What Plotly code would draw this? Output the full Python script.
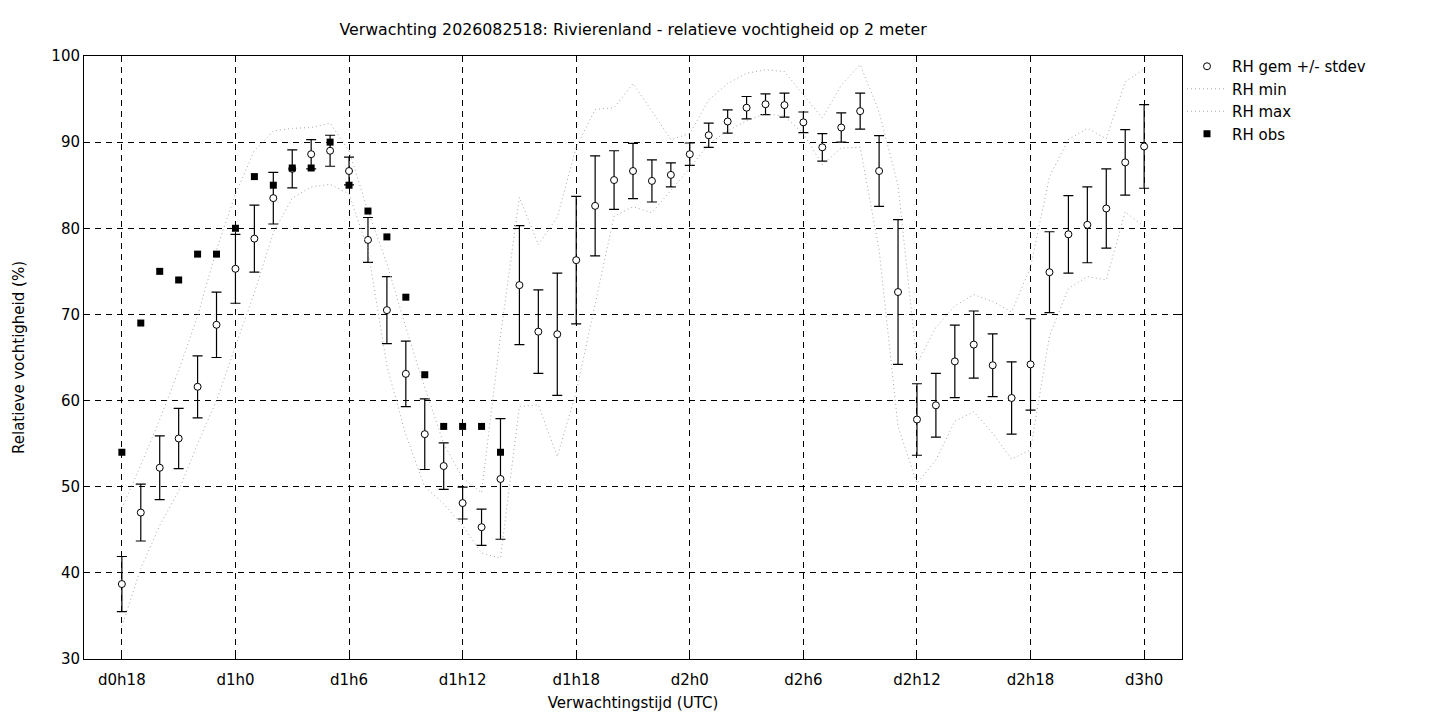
import plotly.graph_objects as go

# uren sinds d0h0 (run 2026082518)
uren = list(range(18, 73))

rh_gem = [38.7, 47.0, 52.2, 55.6, 61.6, 68.8, 75.3, 78.8, 83.5, 86.9,
          88.6, 89.0, 86.65, 78.65, 70.5, 63.1, 56.1, 52.4, 48.1, 45.3,
          50.9, 73.4, 68.0, 67.7, 76.3, 82.6, 85.6, 86.65, 85.5, 86.2,
          88.6, 90.8, 92.4, 94.0, 94.4, 94.3, 92.3, 89.4, 91.7, 93.6,
          86.65, 72.6, 57.8, 59.45, 64.55, 66.5, 64.1, 60.3, 64.2, 74.9,
          79.3, 80.4, 82.3, 87.65, 89.5]
rh_std = [3.2, 3.3, 3.7, 3.5, 3.6, 3.8, 4.0, 3.9, 3.0, 2.2,
          1.7, 1.8, 1.6, 2.6, 3.9, 3.8, 4.1, 2.7, 1.85, 2.1,
          7.0, 6.9, 4.85, 7.1, 7.4, 5.8, 3.4, 3.2, 2.45, 1.4,
          1.3, 1.4, 1.35, 1.3, 1.2, 1.4, 1.2, 1.6, 1.7, 2.1,
          4.1, 8.4, 4.15, 3.7, 4.2, 3.9, 3.65, 4.2, 5.3, 4.7,
          4.5, 4.4, 4.6, 3.8, 4.85]
rh_min = [33.8, 40.5, 45.5, 49.5, 55.0, 60.0, 66.3, 72.5, 79.5, 83.5,
          84.8, 85.1, 84.0, 77.5, 64.0, 56.0, 50.0, 48.0, 45.5, 42.3,
          41.7, 59.3, 59.5, 53.5, 61.0, 71.0, 81.4, 82.5, 81.8, 84.4,
          87.0, 89.8, 91.3, 92.5, 93.3, 93.0, 91.0, 87.4, 89.3, 89.4,
          77.5, 57.0, 50.4, 53.1, 57.6, 58.7, 56.2, 53.2, 54.3, 67.5,
          73.0, 74.4, 74.0, 81.9, 80.2]
rh_max = [47.5, 52.5, 57.8, 63.5, 69.8, 77.5, 84.0, 89.0, 91.3, 91.6,
          91.7, 92.2, 89.0, 82.0, 75.9, 68.5, 61.5, 55.0, 51.0, 49.3,
          67.5, 83.6, 78.1, 81.3, 89.4, 93.8, 94.0, 96.8, 93.6, 90.3,
          91.0, 94.9, 96.8, 98.0, 98.4, 98.2, 95.5, 92.8, 96.6, 99.0,
          93.5, 85.0, 64.3, 68.5, 71.0, 72.3, 71.5, 70.3, 75.5, 86.0,
          90.3, 91.6, 90.4, 97.0, 98.5]

obs_uren = list(range(18, 39))
rh_obs = [54, 69, 75, 74, 77, 77, 80, 86, 85, 87, 87, 90, 85, 82, 79, 72,
          63, 57, 57, 57, 54]

tick_uren = [18, 24, 30, 36, 42, 48, 54, 60, 66, 72]
tick_labels = ['d0h18', 'd1h0', 'd1h6', 'd1h12', 'd1h18', 'd2h0', 'd2h6',
               'd2h12', 'd2h18', 'd3h0']

fnt = 'DejaVu Sans'
W, H = 1424, 704   # pagina heeft 8px body-marge

fig = go.Figure()
fig.add_trace(go.Scatter(x=uren, y=rh_gem, mode='markers', name='RH gem +/- stdev',
                         error_y=dict(type='data', array=rh_std, color='black',
                                      thickness=1.2, width=5),
                         marker=dict(symbol='circle', size=7, color='white',
                                     line=dict(color='black', width=1))))
fig.add_trace(go.Scatter(x=uren, y=rh_min, mode='lines', name='RH min',
                         line=dict(color='#a8a8a8', width=1, dash='1px,3px')))
fig.add_trace(go.Scatter(x=uren, y=rh_max, mode='lines', name='RH max',
                         line=dict(color='#a8a8a8', width=1, dash='1px,3px')))
fig.add_trace(go.Scatter(x=obs_uren, y=rh_obs, mode='markers', name='RH obs',
                         marker=dict(symbol='square', size=7, color='black')))

fig.update_layout(
    width=W, height=H,
    paper_bgcolor='white', plot_bgcolor='white',
    margin=dict(l=76, r=250, t=48, b=53),
    font=dict(family=fnt, size=15, color='black'),
    title=dict(text='Verwachting 2026082518: Rivierenland - relatieve vochtigheid op 2 meter',
               x=625 / W, xanchor='center', y=1 - 21 / H, yanchor='middle',
               font=dict(family=fnt, size=15.8)),
    showlegend=True,
    legend=dict(x=1.0, xanchor='left', y=1 + 6 / 603, yanchor='top',
                bgcolor='rgba(0,0,0,0)', font=dict(family=fnt, size=15),
                tracegroupgap=0, itemwidth=40),
)
fig.update_xaxes(range=[16, 74], tickvals=tick_uren, ticktext=tick_labels,
                 showline=True, linecolor='black', linewidth=1, mirror='allticks',
                 ticks='inside', ticklen=6, tickcolor='black', automargin=False,
                 showgrid=True, gridcolor='black', gridwidth=1, griddash='6px,5px',
                 zeroline=False, tickfont=dict(family=fnt, size=15),
                 ticklabelstandoff=7,
                 title=dict(text='Verwachtingstijd (UTC)', standoff=19,
                            font=dict(family=fnt, size=15)))
fig.update_yaxes(range=[30, 100], dtick=10, tick0=30,
                 showline=True, linecolor='black', linewidth=1, mirror='allticks',
                 ticks='inside', ticklen=6, tickcolor='black', automargin=False,
                 showgrid=True, gridcolor='black', gridwidth=1, griddash='6px,5px',
                 zeroline=False, tickfont=dict(family=fnt, size=15),
                 title=dict(text='Relatieve vochtigheid (%)', standoff=23,
                            font=dict(family=fnt, size=15)))

fig.write_html('out.html')
